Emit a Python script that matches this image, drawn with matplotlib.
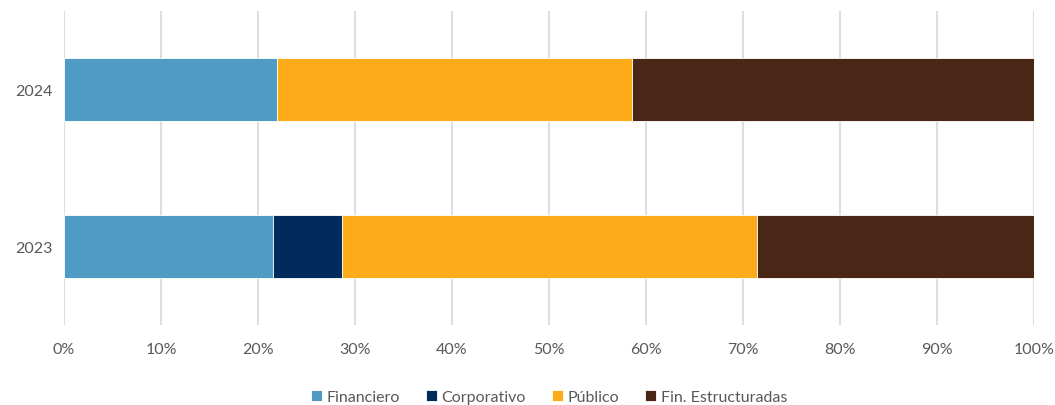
import matplotlib.pyplot as plt
import numpy as np

years = ["2023", "2024"]
series = ["Financiero", "Corporativo", "Público", "Fin. Estructuradas"]
financiero = [21.5, 22.0]
corporativo = [7.2, 0.0]
publico = [42.7, 36.6]
estructuradas = [28.6, 41.4]
colors = ["#4f9bc3", "#002b5c", "#fdab18", "#4a2616"]
xticks = np.arange(0, 101, 10)

plt.rcParams['font.family'] = ['Lato', 'DejaVu Sans']

fig = plt.figure(figsize=(10.55, 4.06), dpi=100)
ax = fig.add_axes([64 / 1055, 1 - 326 / 406, 970 / 1055, 314 / 406])

y = np.arange(len(years))
left = np.zeros(len(years))
for name, vals, col in zip(series, [financiero, corporativo, publico, estructuradas], colors):
    ax.barh(y, vals, left=left, height=0.4, color=col, label=name,
            edgecolor="white", linewidth=0.6, zorder=3)
    left += np.array(vals)

ax.set_xlim(0, 100)
ax.set_ylim(-0.5, 1.5)
ax.set_xticks(xticks)
ax.set_xticklabels([f"{v}%" for v in xticks])
ax.set_yticks(y)
ax.set_yticklabels(years)
ax.grid(axis="x", color="#dedede", linewidth=1.5, zorder=0)
for s in ax.spines.values():
    s.set_visible(False)
ax.tick_params(length=0, labelsize=11.5, colors="#595959")
ax.tick_params(axis="x", pad=12)
ax.tick_params(axis="y", pad=8)

leg = ax.legend(loc="center", bbox_to_anchor=(0.5, (406 - 398 - 80) / 314), ncol=4, frameon=False,
                fontsize=11.5, handlelength=0.7, handleheight=0.7, handletextpad=0.3,
                columnspacing=1.6, labelcolor="#595959")

fig.savefig("out.png", dpi=100)
